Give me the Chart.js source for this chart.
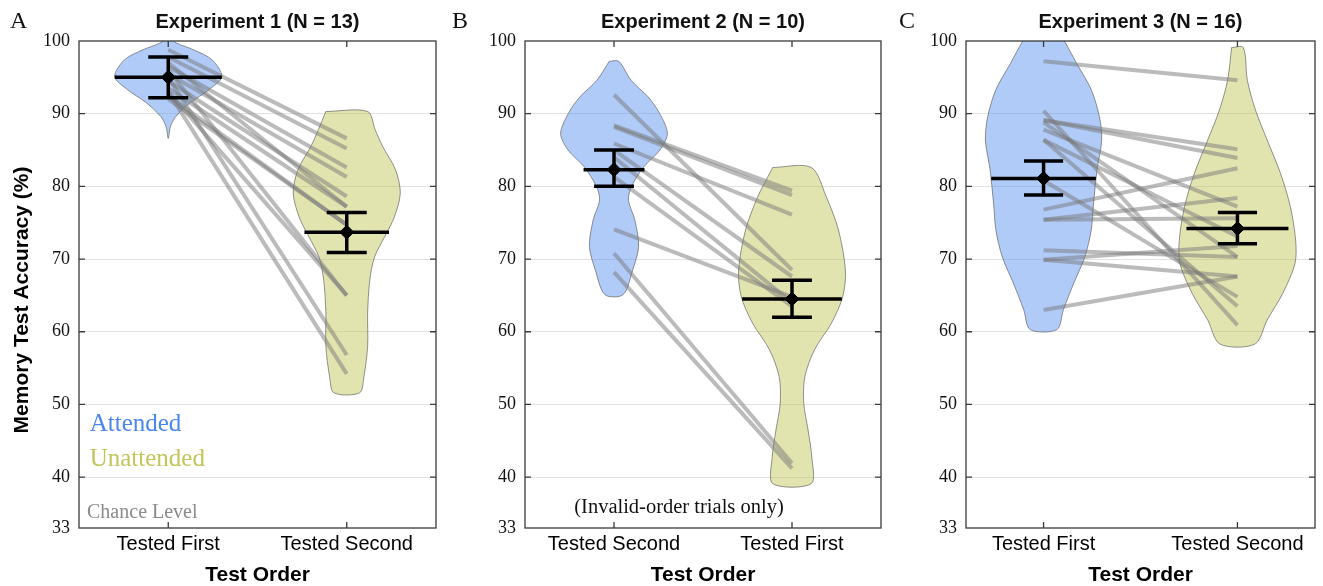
<!DOCTYPE html>
<html>
<head>
<meta charset="utf-8">
<script src="https://cdn.jsdelivr.net/npm/chart.js@4.4.0/dist/chart.umd.min.js"></script>
<style>
  html, body { margin: 0; padding: 0; background: #fff; }
  #wrap { position: relative; width: 1323px; height: 586px; }
  #wrap canvas { position: absolute; top: 0; }
</style>
</head>
<body>
<div id="wrap">
  <canvas id="chartA" width="450" height="586" style="left:0"></canvas>
  <canvas id="chartB" width="445" height="586" style="left:450px"></canvas>
  <canvas id="chartC" width="428" height="586" style="left:895px"></canvas>
</div>
<script>
const yTicks = [33, 40, 50, 60, 70, 80, 90, 100];

// Experiment 1 (N = 13)
const exp1Categories = ['Tested First', 'Tested Second'];
const exp1Attended   = [98.8, 97.8, 96.5, 95.5, 94.5, 93.5, 92.5, 96.0, 95.0, 93.0, 97.0, 92.0, 93.0];
const exp1Unattended = [86.6, 85.2, 82.6, 81.3, 78.6, 77.2, 74.7, 65.0, 56.8, 54.2, 77.2, 74.7, 65.0];
const exp1Means   = [95.0, 73.7];
const exp1ErrLow  = [92.2, 70.9];
const exp1ErrHigh = [97.8, 76.4];
const exp1MeanWidth = [0.30, 0.237];
// violin outlines: [accuracy, relative half-width], top to bottom
const exp1ViolinAtt = [[100.5, 0], [99.7, 0.16], [98.8, 0.47], [97.4, 0.82], [95.1, 1.0], [93.3, 0.76],
  [91.5, 0.41], [89.6, 0.14], [88.2, 0.04], [86.6, 0]];
const exp1ViolinUnatt = [[90.3, 0.39], [87.8, 0.53], [85.5, 0.67], [82.3, 0.91], [79.1, 1.0], [75.8, 0.89],
  [73.1, 0.71], [70.3, 0.52], [67.1, 0.43], [62.6, 0.39], [58.0, 0.39], [53.8, 0.32], [51.6, 0.24]];

// Experiment 2 (N = 10)
const exp2Categories = ['Tested Second', 'Tested First'];
const exp2Attended   = [92.6, 88.4, 88.2, 85.9, 85.0, 84.0, 81.3, 74.1, 70.8, 68.2];
const exp2Unattended = [68.5, 79.4, 78.8, 76.1, 67.6, 64.0, 63.5, 64.8, 41.9, 41.2];
const exp2Means   = [82.3, 64.5];
const exp2ErrLow  = [80.0, 62.0];
const exp2ErrHigh = [85.0, 67.1];
const exp2MeanWidth = [0.171, 0.28];
const exp2ViolinAtt = [[97.2, 0.09], [94.6, 0.32], [92.3, 0.64], [90.1, 0.85], [87.3, 1.0], [85.0, 0.86],
  [82.7, 0.56], [80.0, 0.33], [78.1, 0.27], [75.4, 0.39], [71.7, 0.46], [68.5, 0.35], [65.1, 0.17]];
const exp2ViolinUnatt = [[82.6, 0.36], [78.6, 0.64], [74.0, 0.87], [68.5, 1.0], [64.8, 0.95], [61.2, 0.74],
  [57.5, 0.42], [53.8, 0.24], [50.2, 0.22], [46.5, 0.30], [42.8, 0.37], [39.1, 0.36]];

// Experiment 3 (N = 16)
const exp3Categories = ['Tested First', 'Tested Second'];
const exp3Attended   = [97.2, 90.4, 89.1, 88.8, 89.1, 87.8, 86.4, 86.4, 80.8, 76.8, 75.4, 75.4, 71.2, 69.9, 69.9, 63.0];
const exp3Unattended = [94.6, 60.9, 85.1, 70.3, 83.9, 77.2, 73.1, 63.5, 64.8, 82.5, 78.4, 75.6, 70.3, 67.6, 71.8, 67.6];
const exp3Means   = [81.1, 74.2];
const exp3ErrLow  = [78.8, 72.1];
const exp3ErrHigh = [83.5, 76.4];
const exp3MeanWidth = [0.27, 0.263];
const exp3ViolinAtt = [[101.5, 0.22], [100.1, 0.35], [96.9, 0.57], [93.3, 0.82], [89.6, 0.96], [86.4, 1.0],
  [82.3, 0.92], [77.7, 0.86], [74.0, 0.82], [70.3, 0.71], [66.7, 0.52], [63.0, 0.34], [60.3, 0.23]];
const exp3ViolinUnatt = [[99.1, 0.1], [94.6, 0.17], [90.5, 0.31], [86.4, 0.51], [81.8, 0.74], [77.2, 0.91],
  [72.6, 1.0], [69.4, 0.99], [65.3, 0.78], [61.6, 0.51], [58.3, 0.30]];

const SANS = "'Liberation Sans', Arial, sans-serif";
const SERIF = "'Liberation Serif', 'Times New Roman', serif";
const BLUE_FILL = 'rgba(80, 140, 240, 0.45)';
const YELLOW_FILL = 'rgba(190, 195, 80, 0.45)';
const VIOLIN_MAX = 0.3;

// outline of a violin: left side top->bottom, right side bottom->top, closed
function violinPoints(center, profile) {
  const pts = [];
  profile.forEach(([v, w]) => pts.push({ x: center - w * VIOLIN_MAX, y: v }));
  profile.slice().reverse().forEach(([v, w]) => pts.push({ x: center + w * VIOLIN_MAX, y: v }));
  const out = pts.filter((p, i) => i === 0 || p.x !== pts[i - 1].x || p.y !== pts[i - 1].y);
  const first = out[0], last = out[out.length - 1];
  if (first.x !== last.x || first.y !== last.y) out.push({ x: first.x, y: first.y });
  return out;
}

function seg(x1, y1, x2, y2, color, width, order) {
  return {
    data: [{ x: x1, y: y1 }, { x: x2, y: y2 }],
    borderColor: color, borderWidth: width, pointRadius: 0, fill: false,
    tension: 0, order: order
  };
}

const framePlugin = {
  id: 'frame',
  afterDraw(chart) {
    const { ctx, chartArea: a, scales: { x, y } } = chart;
    ctx.save();
    ctx.strokeStyle = '#3a3a3a';
    ctx.lineWidth = 1.3;
    ctx.strokeRect(a.left, a.top, a.right - a.left, a.bottom - a.top);
    ctx.beginPath();
    yTicks.forEach(v => {
      if (v === 33 || v === 100) return;
      const py = y.getPixelForValue(v);
      ctx.moveTo(a.left, py); ctx.lineTo(a.left + 6, py);
      ctx.moveTo(a.right - 6, py); ctx.lineTo(a.right, py);
    });
    [1, 2].forEach(v => {
      const px = x.getPixelForValue(v);
      ctx.moveTo(px, a.top); ctx.lineTo(px, a.top + 6);
      ctx.moveTo(px, a.bottom); ctx.lineTo(px, a.bottom - 6);
    });
    ctx.stroke();
    ctx.restore();
  }
};

function textPlugin(cfg) {
  return {
    id: 'panelText',
    afterDraw(chart) {
      const { ctx, scales: { x, y } } = chart;
      ctx.save();
      ctx.textBaseline = 'middle';
      ctx.textAlign = 'left';
      ctx.fillStyle = '#111';
      ctx.font = '24px ' + SERIF;
      ctx.fillText(cfg.letter, cfg.letterX, 22);
      cfg.notes.forEach(n => {
        ctx.fillStyle = n.color;
        ctx.font = n.font;
        ctx.textAlign = n.align;
        ctx.fillText(n.text, x.getPixelForValue(n.x), y.getPixelForValue(n.y));
      });
      if (cfg.yTitle) {
        ctx.translate(22, 300);
        ctx.rotate(-Math.PI / 2);
        ctx.textAlign = 'center';
        ctx.fillStyle = '#000';
        ctx.font = 'bold 21px ' + SANS;
        ctx.fillText(cfg.yTitle, 0, 0);
      }
      ctx.restore();
    }
  };
}

function buildPanel(id, cfg) {
  const datasets = [];
  // violins
  datasets.push({
    data: violinPoints(1, cfg.violinAtt), fill: 'shape', backgroundColor: BLUE_FILL,
    borderColor: 'rgba(90,90,90,0.65)', borderWidth: 1, pointRadius: 0, tension: 0.3, order: 4
  });
  datasets.push({
    data: violinPoints(2, cfg.violinUnatt), fill: 'shape', backgroundColor: YELLOW_FILL,
    borderColor: 'rgba(90,90,90,0.65)', borderWidth: 1, pointRadius: 0, tension: 0.3, order: 4
  });
  // paired subject lines
  cfg.attended.forEach((v, i) => {
    datasets.push(seg(1, v, 2, cfg.unattended[i], 'rgba(120,120,120,0.5)', 4, 3));
  });
  // mean bars and error bars
  cfg.means.forEach((m, i) => {
    const c = i + 1;
    datasets.push(seg(c - cfg.meanWidth[i], m, c + cfg.meanWidth[i], m, '#000', 3.5, 2));
    datasets.push(seg(c, cfg.errLow[i], c, cfg.errHigh[i], '#000', 3.5, 2));
    datasets.push(seg(c - cfg.cap, cfg.errLow[i], c + cfg.cap, cfg.errLow[i], '#000', 3.5, 2));
    datasets.push(seg(c - cfg.cap, cfg.errHigh[i], c + cfg.cap, cfg.errHigh[i], '#000', 3.5, 2));
  });
  datasets.push({
    data: cfg.means.map((m, i) => ({ x: i + 1, y: m })), showLine: false,
    pointStyle: 'rectRot', pointRadius: 7, pointBackgroundColor: '#000', pointBorderColor: '#000', order: 1
  });

  return new Chart(document.getElementById(id), {
    type: 'line',
    data: { datasets },
    options: {
      responsive: false,
      animation: false,
      events: [],
      layout: { padding: { left: 0, right: cfg.padRight, top: 0, bottom: 0 } },
      plugins: {
        legend: { display: false },
        tooltip: { enabled: false },
        title: {
          display: true, text: cfg.title, fullSize: false, color: '#111',
          font: { family: SANS, size: 20, weight: 'bold' },
          padding: { top: 10, bottom: 7 }
        }
      },
      scales: {
        x: {
          type: 'linear', min: cfg.xMin, max: cfg.xMax,
          afterBuildTicks: s => { s.ticks = [{ value: 1 }, { value: 2 }]; },
          afterFit: s => { s.height = 58; },
          ticks: {
            callback: (v, i) => cfg.categories[i],
            color: '#000', font: { family: SANS, size: 20 }, padding: -4,
            maxRotation: 0, autoSkip: false
          },
          grid: { display: false },
          border: { display: false },
          title: {
            display: true, text: 'Test Order', color: '#000',
            font: { family: SANS, size: 21, weight: 'bold' }, padding: { top: 0, bottom: -2 }
          }
        },
        y: {
          min: 33, max: 100,
          afterBuildTicks: s => { s.ticks = yTicks.map(v => ({ value: v })); },
          afterFit: s => { s.width = cfg.yWidth; },
          ticks: { color: '#111', font: { family: SERIF, size: 18 }, padding: 9 },
          grid: {
            drawTicks: false,
            color: c => (c.tick && (c.tick.value === 33 || c.tick.value === 100)) ? 'rgba(0,0,0,0)' : '#e2e2e2'
          },
          border: { display: false }
        }
      }
    },
    plugins: [framePlugin, textPlugin(cfg)]
  });
}

buildPanel('chartA', {
  title: 'Experiment 1 (N = 13)', letter: 'A', letterX: 10, yTitle: 'Memory Test Accuracy (%)',
  categories: exp1Categories, attended: exp1Attended, unattended: exp1Unattended,
  means: exp1Means, errLow: exp1ErrLow, errHigh: exp1ErrHigh, meanWidth: exp1MeanWidth,
  violinAtt: exp1ViolinAtt, violinUnatt: exp1ViolinUnatt,
  xMin: 0.5, xMax: 2.5, yWidth: 79, padRight: 14, cap: 0.112,
  notes: [
    { text: 'Attended', x: 0.56, y: 47.2, color: '#4a86ee', font: '25px ' + SERIF, align: 'left' },
    { text: 'Unattended', x: 0.56, y: 42.4, color: '#c3c55a', font: '25px ' + SERIF, align: 'left' },
    { text: 'Chance Level', x: 0.545, y: 35.1, color: '#8a8a8a', font: '20px ' + SERIF, align: 'left' }
  ]
});

buildPanel('chartB', {
  title: 'Experiment 2 (N = 10)', letter: 'B', letterX: 2,
  categories: exp2Categories, attended: exp2Attended, unattended: exp2Unattended,
  means: exp2Means, errLow: exp2ErrLow, errHigh: exp2ErrHigh, meanWidth: exp2MeanWidth,
  violinAtt: exp2ViolinAtt, violinUnatt: exp2ViolinUnatt,
  xMin: 0.5, xMax: 2.5, yWidth: 75, padRight: 14, cap: 0.112,
  notes: [
    { text: '(Invalid-order trials only)', x: 1.365, y: 35.8, color: '#111', font: '20.5px ' + SERIF, align: 'center' }
  ]
});

buildPanel('chartC', {
  title: 'Experiment 3 (N = 16)', letter: 'C', letterX: 4,
  categories: exp3Categories, attended: exp3Attended, unattended: exp3Unattended,
  means: exp3Means, errLow: exp3ErrLow, errHigh: exp3ErrHigh, meanWidth: exp3MeanWidth,
  violinAtt: exp3ViolinAtt, violinUnatt: exp3ViolinUnatt,
  xMin: 0.6, xMax: 2.4, yWidth: 71, padRight: 1, cap: 0.101,
  notes: []
});
</script>
</body>
</html>
